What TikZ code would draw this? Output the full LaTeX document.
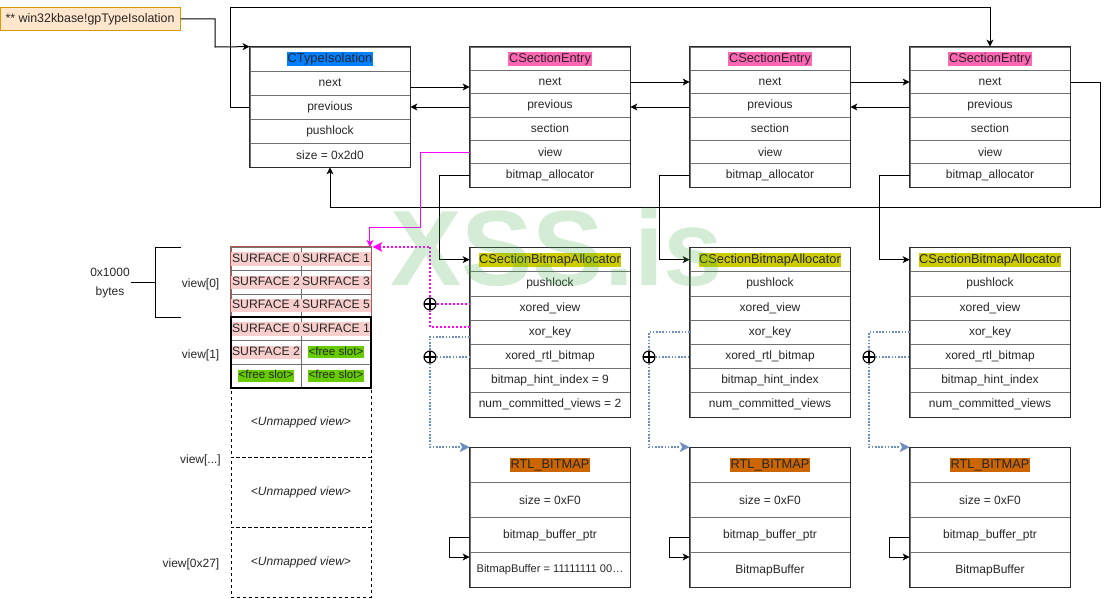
\documentclass[tikz,border=0pt]{standalone}
\usepackage{fontspec}
\setmainfont{Liberation Sans}
\usetikzlibrary{arrows.meta,calc}
\definecolor{txt}{HTML}{262626}
\definecolor{sepc}{HTML}{707070}
\definecolor{bord}{HTML}{2B2B2B}
\definecolor{hlblue}{HTML}{007FFF}
\definecolor{hlpink}{HTML}{FF66B3}
\definecolor{hlolive}{HTML}{CCCC00}
\definecolor{hlorange}{HTML}{CC6600}
\definecolor{surf}{HTML}{F8CECC}
\definecolor{freeg}{HTML}{66CC00}
\definecolor{gpfill}{HTML}{FFE6CC}
\definecolor{gpdraw}{HTML}{D79B00}
\definecolor{vzero}{HTML}{B85450}
\definecolor{bluedot}{HTML}{6C8EBF}
\definecolor{wmark}{HTML}{4CAF50}
\definecolor{magc}{HTML}{FF00FF}
\newcommand\fsz[1]{\fontsize{#1pt}{#1pt}\selectfont}
\newcommand\hlb[2]{{\setlength{\fboxsep}{0.7pt}\colorbox{#1}{\rule[-2.7pt]{0pt}{12pt}#2}}}
\newcommand\hlh[2]{{\fsz{12.8}\setlength{\fboxsep}{0.7pt}\colorbox{#1}{\rule[-2.8pt]{0pt}{12.4pt}#2}}}
\newcommand\hlf[1]{{\setlength{\fboxsep}{0.6pt}\colorbox{freeg}{\rule[-2.5pt]{0pt}{11pt}#1}}}
\begin{document}
\begin{tikzpicture}[x=1pt,y=-1pt,
  rowcell/.style={draw=sepc, line width=0.8pt, minimum width=160pt, inner sep=0pt, text=txt, font=\fsz{12}},
  cell/.style={draw=sepc, line width=0.8pt, minimum width=70pt, minimum height=23.33pt, inner sep=0pt, text=txt, font=\fsz{12.2}},
  outerbox/.style={draw=bord, line width=1pt},
  link/.style={draw=black, line width=1pt, -{Stealth[length=7pt,width=7pt,inset=2pt]}},
  plainlink/.style={draw=black, line width=1pt},
  magline/.style={draw=magc, line width=1pt, -{Stealth[length=7pt,width=7pt,inset=2pt]}},
  magdot/.style={draw=magc, line width=2pt, dash pattern=on 2pt off 2pt},
  bdot/.style={draw=bluedot, line width=1.6pt, dash pattern=on 1.6pt off 1.6pt},
  oplus/.style={circle, draw=black, fill=white, minimum size=12pt, inner sep=0pt, line width=1.1pt,
    path picture={\draw[line width=1.1pt] (path picture bounding box.north) -- (path picture bounding box.south) (path picture bounding box.west) -- (path picture bounding box.east);}},
  lbl/.style={text=txt, font=\fsz{12}, inner sep=0pt},
  unm/.style={draw=black, line width=1pt, dash pattern=on 3pt off 3pt, minimum width=140pt, minimum height=70pt, inner sep=0pt, text=txt, font=\fsz{12}\itshape},
  gpbox/.style={draw=gpdraw, fill=gpfill, line width=1pt, minimum width=180pt, minimum height=23pt, inner sep=0pt, text=txt, font=\fsz{12.4}}
]
\useasboundingbox (0,0) rectangle (1109,598);

% label box
\node[gpbox] (gp) at (90,18.8) {** win32kbase!gpTypeIsolation};

% CTypeIsolation
\node[rowcell, minimum height=24pt] (ti-h) at (330,59) {\hlh{hlblue}{CTypeIsolation}};
\node[rowcell, minimum height=24pt] (ti-next) at (330,83) {next};
\node[rowcell, minimum height=24pt] (ti-prev) at (330,107) {previous};
\node[rowcell, minimum height=24pt] (ti-push) at (330,131) {pushlock};
\node[rowcell, minimum height=24pt] (ti-size) at (330,155) {size = 0x2d0};
\draw[outerbox] (ti-h.north west) rectangle (ti-size.south east);

% CSectionEntry boxes
\newcommand\csebox[2]{%
\node[rowcell, minimum height=23.33pt] (#1-h) at (#2,58.67) {\hlh{hlpink}{CSectionEntry}};
\node[rowcell, minimum height=23.33pt] (#1-next) at (#2,82) {next};
\node[rowcell, minimum height=23.33pt] (#1-prev) at (#2,105.33) {previous};
\node[rowcell, minimum height=23.33pt] (#1-sec) at (#2,128.67) {section};
\node[rowcell, minimum height=23.33pt] (#1-view) at (#2,152) {view};
\node[rowcell, minimum height=23.33pt] (#1-ba) at (#2,175.33) {bitmap\_allocator};
\draw[outerbox] (#1-h.north west) rectangle (#1-ba.south east);}
\csebox{cse1}{550}
\csebox{cse2}{770}
\csebox{cse3}{990}

% CSectionBitmapAllocator boxes
\newcommand\sbabox[4]{%
\node[rowcell, minimum height=24.2pt] (#1-h) at (#2,259.6) {\hlh{hlolive}{CSectionBitmapAllocator}};
\node[rowcell, minimum height=24.2pt] (#1-push) at (#2,283.8) {pushlock};
\node[rowcell, minimum height=24.2pt] (#1-xv) at (#2,308) {xored\_view};
\node[rowcell, minimum height=24.2pt] (#1-xk) at (#2,332.2) {xor\_key};
\node[rowcell, minimum height=24.2pt] (#1-xr) at (#2,356.4) {xored\_rtl\_bitmap};
\node[rowcell, minimum height=24.2pt] (#1-hint) at (#2,380.6) {#3};
\node[rowcell, minimum height=24.2pt] (#1-num) at (#2,404.8) {#4};
\draw[outerbox] (#1-h.north west) rectangle (#1-num.south east);}
\sbabox{sba1}{550}{bitmap\_hint\_index = 9}{num\_committed\_views = 2}
\sbabox{sba2}{770}{bitmap\_hint\_index}{num\_committed\_views}
\sbabox{sba3}{990}{bitmap\_hint\_index}{num\_committed\_views}

% RTL_BITMAP boxes
\newcommand\rtlbox[3]{%
\node[rowcell, minimum height=35pt] (#1-h) at (#2,465) {\hlh{hlorange}{RTL\_BITMAP}};
\node[rowcell, minimum height=35pt] (#1-size) at (#2,500) {size = 0xF0};
\node[rowcell, minimum height=35pt] (#1-ptr) at (#2,535) {bitmap\_buffer\_ptr};
\node[rowcell, minimum height=35pt] (#1-buf) at (#2,570) {#3};
\draw[outerbox] (#1-h.north west) rectangle (#1-buf.south east);
\draw[link] ([yshift=-2pt]#1-ptr.west) -- ++(-20,0) |- ([yshift=13pt]#1-buf.west);}
\rtlbox{rtl1}{550}{\fsz{11.1}BitmapBuffer = 11111111 00\ldots}
\rtlbox{rtl2}{770}{BitmapBuffer}
\rtlbox{rtl3}{990}{BitmapBuffer}

% surface grid
\node[cell] (s00) at (266,259) {\hlb{surf}{SURFACE 0}};
\node[cell] (s01) at (336,259) {\hlb{surf}{SURFACE 1}};
\node[cell] (s02) at (266,282.33) {\hlb{surf}{SURFACE 2}};
\node[cell] (s03) at (336,282.33) {\hlb{surf}{SURFACE 3}};
\node[cell] (s04) at (266,305.67) {\hlb{surf}{SURFACE 4}};
\node[cell] (s05) at (336,305.67) {\hlb{surf}{SURFACE 5}};
\draw[draw=vzero, line width=1pt] (s00.north west) rectangle (s05.south east);
\node[cell] (t00) at (266,329) {\hlb{surf}{SURFACE 0}};
\node[cell] (t01) at (336,329) {\hlb{surf}{SURFACE 1}};
\node[cell] (t02) at (266,352.33) {\hlb{surf}{SURFACE 2}};
\node[cell, font=\fsz{11.6}] (t03) at (336,352.33) {\hlf{<free slot>}};
\node[cell, font=\fsz{11.6}] (t04) at (266,375.67) {\hlf{<free slot>}};
\node[cell, font=\fsz{11.6}] (t05) at (336,375.67) {\hlf{<free slot>}};
\node[unm] (u1) at (301,422.33) {<Unmapped view>};
\node[unm] (u2) at (301,492.33) {<Unmapped view>};
\node[unm] (u3) at (301,562.33) {<Unmapped view>};
\draw[draw=black, line width=2pt] (t00.north west) rectangle (t05.south east);

% left labels
\node[lbl, anchor=east] (lv0) at (219.5,284) {view[0]};
\node[lbl, anchor=east] (lv1) at (219.5,355) {view[1]};
\node[lbl, anchor=east] (lvd) at (221,460) {view[...]};
\node[lbl, anchor=east] (lvl) at (219.5,564) {view[0x27]};
\node[lbl, align=center] (sz) at (110,283.5) {0x1000\\[7pt]bytes};
\draw[plainlink] (180.7,247.3) -- (155.7,247.3) -- (155.7,317.3) -- (180.7,317.3);
\coordinate (brm) at (155.7,282.5);
\coordinate (szt) at (130.7,282.5);
\draw[plainlink] (szt) -- (brm);

% xor symbols
\node[oplus] (xo1m) at (430,304) {};
\node[oplus] (xo1b) at (430,357) {};
\node[oplus] (xo2b) at (649,357) {};
\node[oplus] (xo3b) at (869,357) {};

% connectors
\coordinate (gpk) at (215,47);
\draw[link] (gp.east) -| (gpk) -- (ti-h.north west);
\coordinate (p1) at ([yshift=-4pt]ti-next.east);
\draw[link] (p1) -- (p1 -| cse1-next.west);
\draw[link] (ti-prev.east -| cse1-prev.west) -- (ti-prev.east);
\draw[link] (cse1-next.east) -- (cse2-next.west);
\draw[link] (cse2-next.east) -- (cse3-next.west);
\draw[link] ([yshift=-1.7pt]cse2-prev.west) -- ([yshift=-1.7pt]cse1-prev.east);
\draw[link] ([yshift=-1.7pt]cse3-prev.west) -- ([yshift=-1.7pt]cse2-prev.east);
\coordinate (rl) at (1100,207);
\draw[link] (cse3-next.east) -| (rl) -| (ti-size.south);
\coordinate (tl) at (230,7);
\draw[link] (ti-prev.west) -| (tl) -| (cse3-h.north);
\draw[link] (cse1-ba.west) -- ++(-30,0) |- (sba1-h.west);
\draw[link] (cse2-ba.west) -- ++(-30,0) |- (sba2-h.west);
\draw[link] (cse3-ba.west) -- ++(-30,0) |- (sba3-h.west);

% view pointers (magenta)
\coordinate (mk) at (420,227);
\draw[magline] (cse1-view.west) -| (mk) -| ([xshift=-1.5pt]s01.north east);
\draw[magdot] ([yshift=5pt]sba1-xk.west) -| (xo1m.south);
\draw[magdot] (xo1m.east) -- (xo1m.east -| sba1-xv.west);
\draw[magdot] (xo1m.north) |- ([xshift=9pt]s01.north east);
\fill[magc] ([xshift=1pt]s01.north east) -- ++(10,-5) -- ++(-2.5,5) -- ++(2.5,5) -- cycle;

% rtl bitmap pointers (blue dotted)
\draw[bdot] ([yshift=-4.5pt]sba1-xk.west) -| (xo1b.north);
\draw[bdot] (xo1b.east) -- (xo1b.east -| sba1-xr.west);
\draw[bdot] (xo1b.south) |- ([xshift=-9pt]rtl1-h.north west);
\fill[bluedot] (rtl1-h.north west) -- ++(-10,-5) -- ++(2.5,5) -- ++(-2.5,5) -- cycle;
\draw[bdot] (sba2-xk.west) -| (xo2b.north);
\draw[bdot] (xo2b.east) -- (xo2b.east -| sba2-xr.west);
\draw[bdot] (xo2b.south) |- ([xshift=-9pt]rtl2-h.north west);
\fill[bluedot] (rtl2-h.north west) -- ++(-10,-5) -- ++(2.5,5) -- ++(-2.5,5) -- cycle;
\draw[bdot] (sba3-xk.west) -| (xo3b.north);
\draw[bdot] (xo3b.east) -- (xo3b.east -| sba3-xr.west);
\draw[bdot] (xo3b.south) |- ([xshift=-9pt]rtl3-h.north west);
\fill[bluedot] (rtl3-h.north west) -- ++(-10,-5) -- ++(2.5,5) -- ++(-2.5,5) -- cycle;

% watermark
\node[anchor=base west, inner sep=0pt, text=wmark, text opacity=0.24, font=\fontsize{107pt}{107pt}\selectfont\bfseries] (wm) at (390,285) {XSS.is};
\end{tikzpicture}
\end{document}
